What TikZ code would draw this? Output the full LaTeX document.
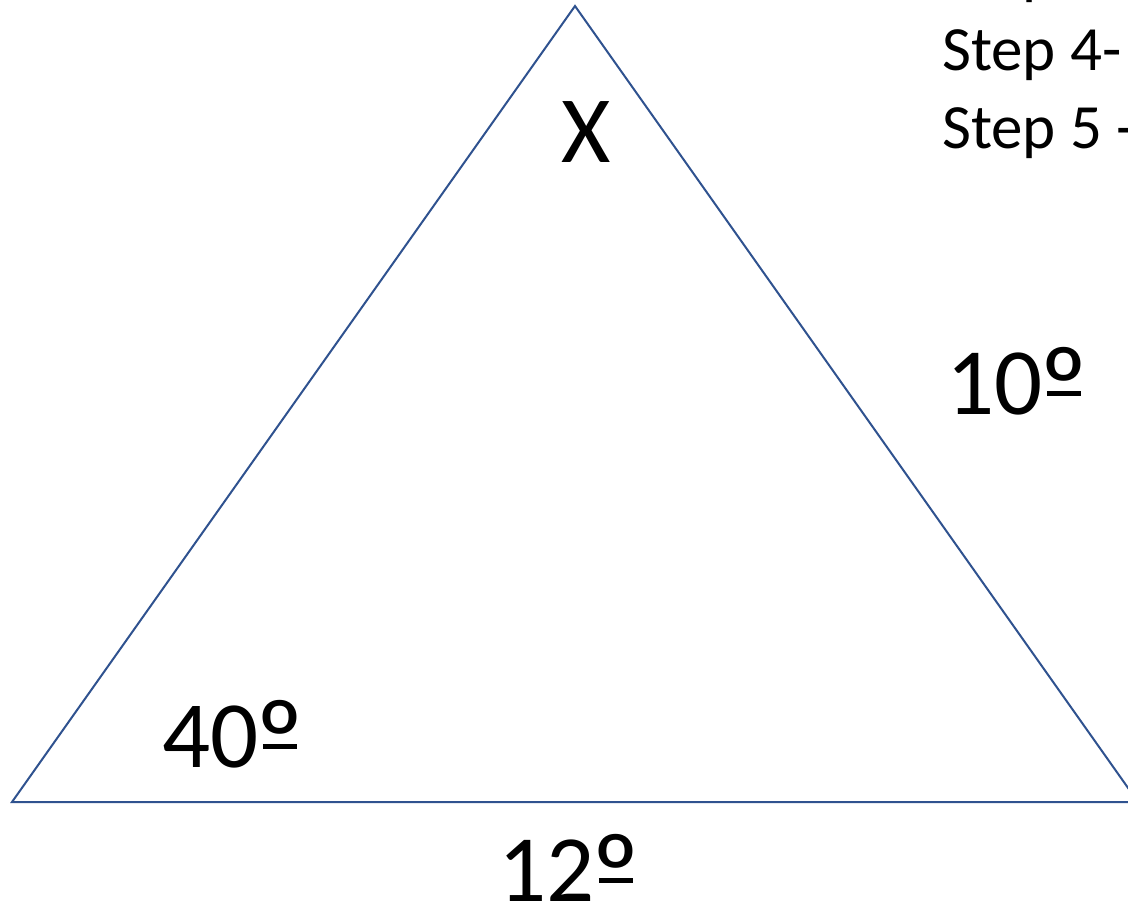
\documentclass[tikz,border=0pt]{standalone}
\usepackage{fontspec}
\setmainfont{Carlito}
\definecolor{tri}{HTML}{2F528F}
\newcommand\ordsign{\kern-0.03em\setbox0\hbox{\raisebox{-0.13em}{\scalebox{1.22}{º}}}\rlap{\box0}\setbox0\hbox{\scalebox{1.22}{º}}\hbox to \wd0{\hss\rule[0.19em]{0.7\wd0}{0.05em}\hss}\kern-0.03em}
\begin{document}
\begin{tikzpicture}[x=1pt,y=-1pt,
  lbl/.style={anchor=base west,inner sep=0pt,font=\fontsize{95}{95}\selectfont},
  steptxt/.style={anchor=base west,inner sep=0pt,font=\fontsize{63}{63}\selectfont}]
\useasboundingbox (0,0) rectangle (1128,905);
\clip (0,0) rectangle (1128,905);
\coordinate (A) at (575,6);
\coordinate (B) at (12,802);
\coordinate (C) at (1138,802);
\draw[tri,line width=2pt,line join=miter] (A) -- (B) -- (C) -- cycle;
\node[lbl,anchor=base] (x) at (586,162) {X};
\node[lbl] (a40) at (162,767) {40\ordsign};
\node[lbl] (a10) at (946,414) {10\ordsign};
\node[lbl] (a12) at (498,901) {12\ordsign};
\node[steptxt] (s3) at (942,-8) {Step 3};
\node[steptxt] (s4) at (942,70) {Step 4-};
\node[steptxt] (s5) at (942,148) {Step 5 -};
\end{tikzpicture}
\end{document}
